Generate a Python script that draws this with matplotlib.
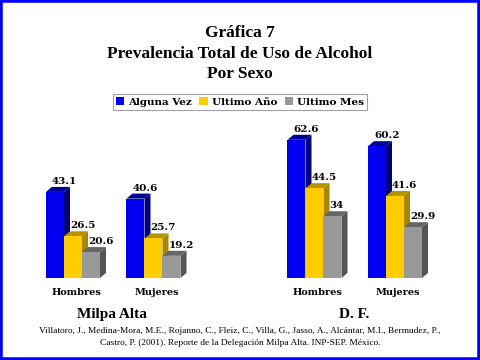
import matplotlib
matplotlib.use("Agg")
from matplotlib import pyplot as plt
from matplotlib.patches import Polygon, Patch, Rectangle
import numpy as np

plt.rcParams['font.family'] = ['Liberation Serif', 'DejaVu Serif']
wide = ['DejaVu Serif']  # the spaced-out bold labels

# data
series = ['Alguna Vez', 'Ultimo Año', 'Ultimo Mes']
groups = ['Hombres', 'Mujeres', 'Hombres', 'Mujeres']
regions = ['Milpa Alta', 'D. F.']
alguna_vez = [43.1, 40.6, 62.6, 60.2]
ultimo_anio = [26.5, 25.7, 44.5, 41.6]
ultimo_mes = [20.6, 19.2, 34, 29.9]
value_labels = [['43.1', '40.6', '62.6', '60.2'],
                ['26.5', '25.7', '44.5', '41.6'],
                ['20.6', '19.2', '34', '29.9']]

front = ['#0000F0', '#FFCC00', '#999999']
side = ['#00007A', '#A88600', '#555555']
top = ['#000090', '#B89300', '#666666']

fig = plt.figure(figsize=(4.8, 3.6), dpi=100)
ax = fig.add_axes([20 / 480, 82 / 360, 440 / 480, 158 / 360])
base = 10.9
ax.set_ylim(base, 70)
ax.set_xlim(-26 / 80.5, 414 / 80.5)
ax.axis('off')

pos = np.array([0, 1, 3, 4])
w = 18 / 80.5
dx = 6 / 80.5
dy = 5 / 2.67

values = [alguna_vez, ultimo_anio, ultimo_mes]
for i, vals in enumerate(values):
    xs = pos + i * w
    ax.bar(xs, np.array(vals) - base, width=w, bottom=base, align='edge',
           color=front[i], edgecolor='none', zorder=3)
    for x, v, lab in zip(xs, vals, value_labels[i]):
        # right side face
        ax.add_patch(Polygon([(x + w, base), (x + w + dx, base + dy),
                              (x + w + dx, v + dy), (x + w, v)],
                             closed=True, color=side[i], lw=0, zorder=2))
        # top face
        ax.add_patch(Polygon([(x, v), (x + dx, v + dy), (x + w + dx, v + dy),
                              (x + w, v)],
                             closed=True, color=top[i], lw=0, zorder=2))
        ax.text(x + dx, v + dy + 0.4, lab, ha='left', va='bottom',
                fontsize=7.5, fontweight='bold', family=wide, zorder=4)

for p, g in zip(pos, groups):
    ax.text(p + (3 * w + dx) / 2, base - 3.6, g, ha='center', va='top',
            fontsize=7, fontweight='bold', family=wide)

for k, r in enumerate(regions):
    mid = (pos[2 * k] + pos[2 * k + 1] + 3 * w + dx) / 2
    ax.text(mid - 0.05, base - 11.2, r, ha='center', va='top',
            fontsize=11, fontweight='bold')

fig.text(0.5, 1 - 33 / 360, 'Gráfica 7', ha='center', va='center',
         fontsize=12.5, fontweight='bold')
fig.text(0.5, 1 - 54 / 360, 'Prevalencia Total de Uso de Alcohol', ha='center',
         va='center', fontsize=12.5, fontweight='bold')
fig.text(0.5, 1 - 74 / 360, 'Por Sexo', ha='center', va='center',
         fontsize=12.5, fontweight='bold')

handles = [Patch(facecolor=front[i], edgecolor='none') for i in range(3)]
leg = fig.legend(handles, series, loc='center', bbox_to_anchor=(240 / 480, 1 - 102 / 360),
                 ncol=3, frameon=True, fancybox=False, handlelength=0.8,
                 handleheight=0.8, handletextpad=0.4, columnspacing=0.7,
                 borderpad=0.3, prop={'weight': 'bold', 'size': 7.5, 'family': wide})
leg.get_frame().set_edgecolor('#888888')
leg.get_frame().set_linewidth(0.8)

fig.text(0.5, 1 - 331 / 360,
         'Villatoro, J., Medina-Mora, M.E., Rojanno, C., Fleiz, C., Villa, G., Jasso, A., '
         'Alcántar, M.I., Bermudez, P.,', ha='center', va='center', fontsize=6.75)
fig.text(0.5, 1 - 343 / 360,
         'Castro, P. (2001). Reporte de la Delegación Milpa Alta. INP-SEP. México.',
         ha='center', va='center', fontsize=6.75)

fig.patches.append(Rectangle((0, 0), 1, 1, transform=fig.transFigure, fill=False,
                             edgecolor='#0000FF', linewidth=4, clip_on=True))

fig.savefig('out.png', dpi=100)
